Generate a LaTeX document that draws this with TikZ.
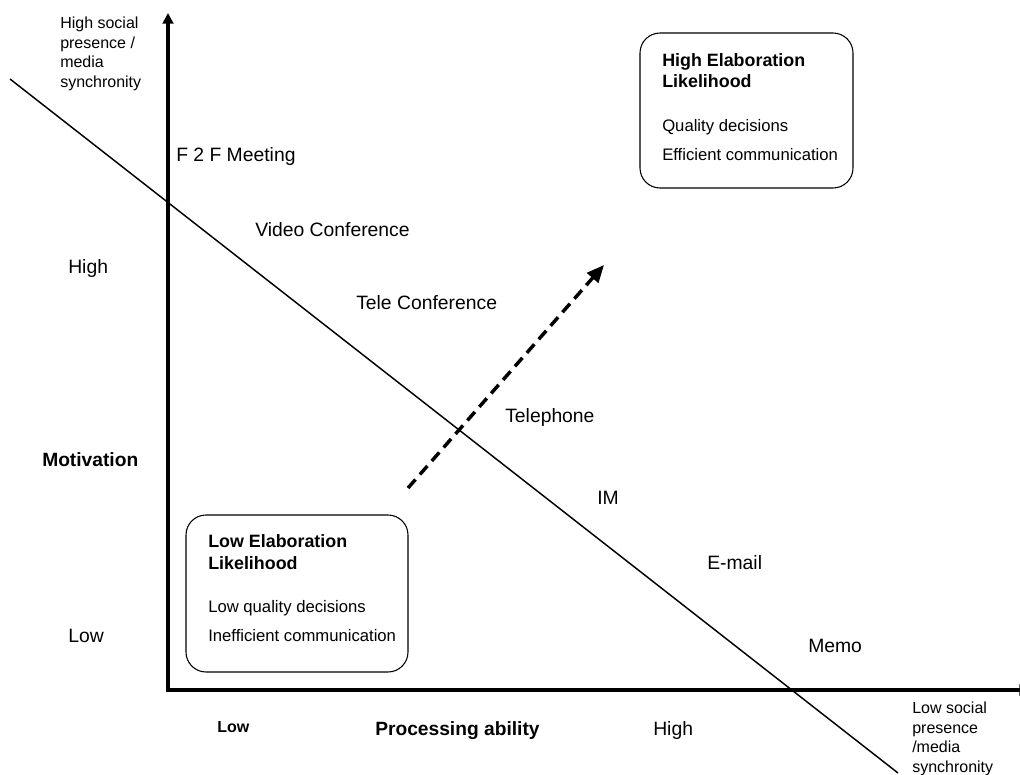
\documentclass[tikz,border=0pt]{standalone}
\usepackage{fontspec}
\setmainfont{Liberation Sans}
\usetikzlibrary{arrows.meta,fit}

\tikzset{
  lbl/.style={anchor=base west, inner sep=0pt, font=\fontsize{14.5}{17}\selectfont},
  lblb/.style={lbl, font=\fontsize{14.4}{17}\selectfont\bfseries},
  small/.style={anchor=north west, inner sep=0pt, align=left, font=\fontsize{12}{14.6}\selectfont},
  boxtxt/.style={anchor=base west, inner sep=0pt, font=\fontsize{12.5}{15}\selectfont},
  boxttl/.style={boxtxt, font=\fontsize{13.4}{15}\selectfont\bfseries},
  elbox/.style={draw, line width=0.8pt, rounded corners=15pt, inner sep=0pt},
  axis/.style={line width=2.3pt, {Triangle[length=8pt,width=8pt]}-{Triangle[length=8pt,width=8pt]}},
  divider/.style={line width=1.1pt},
  trend/.style={line width=2.6pt, dash pattern=on 8.5pt off 5pt, -{Triangle[length=13pt,width=11pt]}}
}

\begin{document}
\begin{tikzpicture}[x=0.75pt,y=-0.75pt]
  \clip (0,0) rectangle (1020,774);
  \fill[white] (0,0) rectangle (1020,774);

  % axes
  \coordinate (O) at (168,690);
  \coordinate (ytop) at (168,13);
  \coordinate (xend) at (1030,690);
  \draw[axis] (ytop) -- (O) -- (xend);

  % dividing line between the two regions
  \coordinate (dA) at (10,79);
  \coordinate (dB) at (898,773);
  \draw[divider] (dA) -- (dB);

  % dashed trend arrow
  \coordinate (tA) at (408,488);
  \coordinate (tB) at (604,265);
  \draw[trend] (tA) -- (tB);

  % axis end labels
  \node[small] (ytxt) at (60,17) {High social\\presence /\\media\\synchronity};
  \node[small] (xtxt) at (912,702) {Low social\\presence\\/media\\synchronity};

  % media
  \node[lbl] (f2f) at (176,161) {F 2 F Meeting};
  \node[lbl] (video) at (255,236) {Video Conference};
  \node[lbl] (tele) at (356,309) {Tele Conference};
  \node[lbl] (phone) at (505,422) {Telephone};
  \node[lbl] (im) at (597,504) {IM};
  \node[lbl] (email) at (707,569) {E-mail};
  \node[lbl] (memo) at (808,652) {Memo};

  % motivation axis
  \node[lbl] (mhigh) at (68,273) {High};
  \node[lblb] (motiv) at (42,466) {Motivation};
  \node[lbl] (mlow) at (68,642) {Low};

  % processing ability axis
  \node[anchor=base west, inner sep=0pt, font=\fontsize{12}{14}\selectfont\bfseries] (plow) at (217,732) {Low};
  \node[lblb] (proc) at (375,735) {Processing ability};
  \node[lbl] (phigh) at (653,735) {High};

  % high elaboration likelihood box
  \node[elbox, fit={(640,33) (853,188)}] (hbox) {};
  \node[boxttl] (h1) at (662,66) {High Elaboration};
  \node[boxttl] (h2) at (662,88) {Likelihood};
  \node[boxtxt] (h3) at (662,131) {Quality decisions};
  \node[boxtxt] (h4) at (662,160) {Efficient communication};

  % low elaboration likelihood box
  \node[elbox, fit={(186,515) (408,672)}] (lbox) {};
  \node[boxttl] (l1) at (208,547) {Low Elaboration};
  \node[boxttl] (l2) at (208,569) {Likelihood};
  \node[boxtxt] (l3) at (208,612) {Low quality decisions};
  \node[boxtxt] (l4) at (208,641) {Inefficient communication};
\end{tikzpicture}
\end{document}
